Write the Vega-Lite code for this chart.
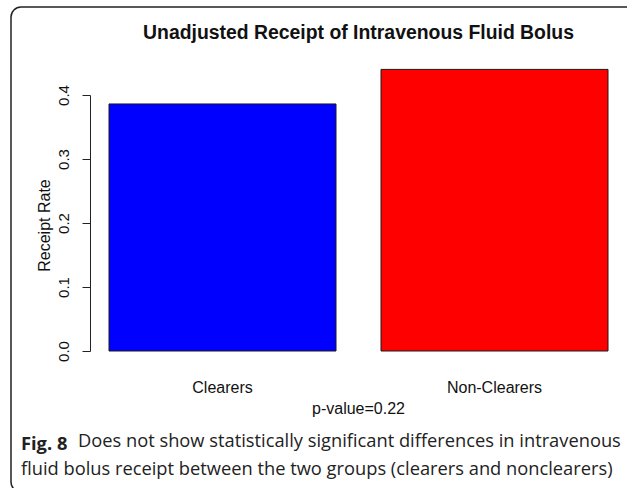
{
  "$schema": "https://vega.github.io/schema/vega-lite/v6.json",
  "background": "white",
  "autosize": "none",
  "width": 628,
  "height": 485,
  "padding": {"left": 11, "top": 7, "right": -12, "bottom": -4},
  "title": {
    "text": "Fig. 8",
    "subtitle": ["\u200b\u00a0\u00a0\u00a0\u00a0\u00a0\u00a0\u00a0\u00a0\u00a0\u00a0\u00a0\u00a0Does not show statistically significant differences in intravenous", "fluid bolus receipt between the two groups (clearers and nonclearers)"],
    "orient": "bottom",
    "anchor": "start",
    "frame": "group",
    "dx": 10,
    "offset": -56,
    "font": "Open Sans",
    "fontSize": 18.3,
    "fontWeight": "bold",
    "color": "#222222",
    "subtitleFont": "Open Sans",
    "subtitleFontSize": 18.3,
    "subtitleFontWeight": "normal",
    "subtitleColor": "#222222",
    "subtitleLineHeight": 28,
    "subtitlePadding": -21
  },
  "data": {
    "values": [
      {"group": "Clearers", "rate": 0.386},
      {"group": "Non-Clearers", "rate": 0.44}
    ]
  },
  "layer": [
    {
      "mark": {"type": "bar", "strokeWidth": 0},
      "encoding": {
        "x": {
          "field": "group",
          "type": "nominal",
          "sort": null,
          "scale": {"paddingInner": 0.16544, "paddingOuter": 0.23713, "align": 0.7597},
          "axis": {
            "orient": "bottom",
            "offset": -141,
            "title": "p-value=0.22",
            "titleFont": "Liberation Sans",
            "titleFontSize": 16,
            "titleFontWeight": "normal",
            "titleColor": "#111111",
            "titleX": 347,
            "titleY": 57,
            "titleAlign": "center",
            "titleBaseline": "middle",
            "domain": false,
            "ticks": false,
            "labelAngle": 0,
            "labelFont": "Liberation Sans",
            "labelFontSize": 16,
            "labelColor": "#111111",
            "labelPadding": 28
          }
        },
        "y": {
          "field": "rate",
          "type": "quantitative",
          "scale": {"domain": [-0.2203125, 0.5375], "nice": false, "zero": false},
          "axis": {
            "orient": "left",
            "offset": -79,
            "title": "Receipt Rate",
            "titleFont": "Liberation Sans",
            "titleFontSize": 16,
            "titleFontWeight": "normal",
            "titleColor": "#111111",
            "titleX": -46,
            "titleY": 218,
            "titleAngle": -90,
            "titleAlign": "center",
            "titleBaseline": "middle",
            "values": [0, 0.1, 0.2, 0.3, 0.4],
            "format": ".1f",
            "grid": false,
            "domainColor": "#222222",
            "domainWidth": 1,
            "domainDash": [0, 141, 256, 1000],
            "tickColor": "#222222",
            "tickSize": 8,
            "tickWidth": 1,
            "labelAngle": -90,
            "labelAlign": "center",
            "labelBaseline": "alphabetic",
            "labelFont": "Liberation Sans",
            "labelFontSize": 15,
            "labelColor": "#111111",
            "labelPadding": 14
          }
        },
        "color": {
          "field": "group",
          "type": "nominal",
          "sort": null,
          "scale": {"range": ["#0000ff", "#ff0000"]},
          "legend": null
        }
      }
    },
    {
      "mark": {"type": "bar", "filled": false, "stroke": "#1a1a1a", "strokeWidth": 1},
      "encoding": {
        "x": {
          "field": "group",
          "type": "nominal",
          "sort": null,
          "scale": {"paddingInner": 0.16544, "paddingOuter": 0.23713, "align": 0.7597},
          "axis": {
            "orient": "top",
            "title": "Unadjusted Receipt of Intravenous Fluid Bolus",
            "titleFont": "Liberation Sans",
            "titleFontSize": 19.4,
            "titleFontWeight": "bold",
            "titleColor": "#111111",
            "titleX": 347,
            "titleY": 25,
            "titleAlign": "center",
            "titleBaseline": "middle",
            "domain": false,
            "ticks": false,
            "labels": false
          }
        },
        "y": {
          "field": "rate",
          "type": "quantitative",
          "scale": {"domain": [-0.2203125, 0.5375], "nice": false, "zero": false},
          "axis": {
            "orient": "left",
            "offset": -79,
            "title": "Receipt Rate",
            "titleFont": "Liberation Sans",
            "titleFontSize": 16,
            "titleFontWeight": "normal",
            "titleColor": "#111111",
            "titleX": -46,
            "titleY": 218,
            "titleAngle": -90,
            "titleAlign": "center",
            "titleBaseline": "middle",
            "values": [0, 0.1, 0.2, 0.3, 0.4],
            "format": ".1f",
            "grid": false,
            "domainColor": "#222222",
            "domainWidth": 1,
            "domainDash": [0, 141, 256, 1000],
            "tickColor": "#222222",
            "tickSize": 8,
            "tickWidth": 1,
            "labelAngle": -90,
            "labelAlign": "center",
            "labelBaseline": "alphabetic",
            "labelFont": "Liberation Sans",
            "labelFontSize": 15,
            "labelColor": "#111111",
            "labelPadding": 14
          }
        }
      }
    }
  ],
  "config": {
    "view": {"stroke": "#222222", "strokeWidth": 1.5, "cornerRadius": 10},
    "axis": {"labelOverlap": false}
  }
}
